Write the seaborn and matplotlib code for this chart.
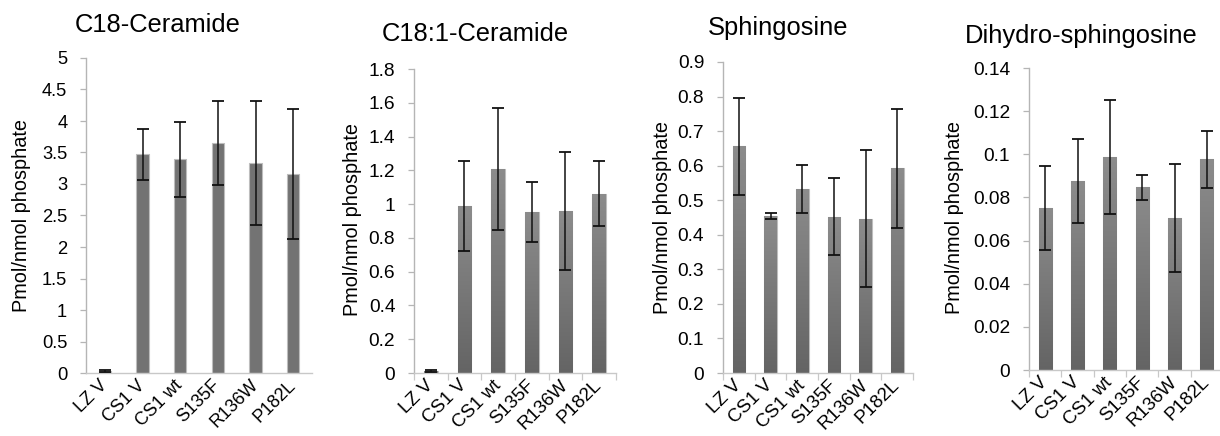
import numpy as np
import pandas as pd
import matplotlib
matplotlib.use("Agg")
import matplotlib.pyplot as plt
from matplotlib.colors import LinearSegmentedColormap
from matplotlib.ticker import FuncFormatter, FixedLocator
import seaborn as sns

sns.set_style("white")
plt.rcParams['font.family'] = ['Liberation Sans', 'DejaVu Sans']
plt.rcParams['text.color'] = 'black'
plt.rcParams['xtick.labelcolor'] = 'black'
plt.rcParams['ytick.labelcolor'] = 'black'

categories = ["LZ V", "CS1 V", "CS1 wt", "S135F", "R136W", "P182L"]

titles = ["C18-Ceramide", "C18:1-Ceramide", "Sphingosine", "Dihydro-sphingosine"]

c18_mean = [0.03, 3.47, 3.39, 3.65, 3.33, 3.16]
c18_err = [0.01, 0.40, 0.60, 0.67, 0.98, 1.03]

c181_mean = [0.012, 0.989, 1.208, 0.953, 0.959, 1.062]
c181_err = [0.006, 0.267, 0.360, 0.180, 0.347, 0.194]

sph_mean = [0.656, 0.455, 0.532, 0.452, 0.447, 0.592]
sph_err = [0.140, 0.008, 0.070, 0.111, 0.197, 0.173]

dhs_mean = [0.0751, 0.0875, 0.0988, 0.0848, 0.0705, 0.0977]
dhs_err = [0.0197, 0.0194, 0.0264, 0.0058, 0.0250, 0.0133]

ymaxes = [5, 1.8, 0.9, 0.14]
ysteps = [0.5, 0.2, 0.1, 0.02]

W, H = 1220, 436
fig = plt.figure(figsize=(W / 100, H / 100), dpi=100)

# axes rectangles in pixels: left, right, top, bottom
rects_px = [(86, 312, 58, 373), (414, 616, 69, 373), (723, 913, 62, 373), (1029, 1223, 68, 370)]
title_px = [(158, 32), (475, 41), (778, 35), (1081, 43)]
ylabel_px = [(22, 216), (352, 220), (662, 218), (955, 218)]
bar_widths = [0.32, 0.4, 0.4, 0.41]
tick_sizes = [13.2, 13.8, 13.8, 13.8]
xtick_sizes = [13, 13.5, 13.5, 13.5]

means = [c18_mean, c181_mean, sph_mean, dhs_mean]
errs = [c18_err, c181_err, sph_err, dhs_err]

spine_col = "#b5b5b5"
grad = LinearSegmentedColormap.from_list("g", ["#646464", "#8c8c8c"])

for i in range(4):
    l, r, t, b = rects_px[i]
    ax = fig.add_axes([l / W, 1 - b / H, (r - l) / W, (b - t) / H])
    df = pd.DataFrame({"cat": categories, "val": means[i]})
    sns.barplot(data=df, x="cat", y="val", ax=ax, color="#737373",
                width=bar_widths[i], errorbar=None, saturation=1,
                edgecolor="#bdbdbd", linewidth=0.8)
    ax.set_ylim(0, ymaxes[i])
    ax.set_xlim(-0.5, len(categories) - 0.5)

    if i > 0:
        for p in ax.patches:
            bb = p.get_bbox()
            im = ax.imshow(np.linspace(1, 0, 256).reshape(-1, 1), cmap=grad,
                           extent=[bb.x0, bb.x1, bb.y0, bb.y1], aspect="auto",
                           zorder=p.get_zorder() + 0.1, interpolation="bilinear")
            im.set_clip_path(p)
        ax.set_ylim(0, ymaxes[i])
        ax.set_xlim(-0.5, len(categories) - 0.5)
        ax.set_aspect("auto")

    centers = [p.get_x() + p.get_width() / 2 for p in ax.patches]
    ax.errorbar(centers, means[i], yerr=errs[i], fmt="none", ecolor="#111111",
                elinewidth=1.1, capsize=4.5, capthick=1.3, zorder=5)

    nt = int(round(ymaxes[i] / ysteps[i]))
    ax.yaxis.set_major_locator(FixedLocator([k * ysteps[i] for k in range(nt + 1)]))
    ax.yaxis.set_major_formatter(FuncFormatter(lambda v, pos: f"{round(v, 4):g}"))

    for s in ["top", "right"]:
        ax.spines[s].set_visible(False)
    for s in ["left", "bottom"]:
        ax.spines[s].set_color(spine_col if s == "left" else "#c8c8c8")
        ax.spines[s].set_linewidth(1.0)

    ax.tick_params(axis="y", which="major", left=True, length=4, width=0.9,
                   color=spine_col, labelsize=tick_sizes[i], pad=9.5, labelcolor="black")
    ax.tick_params(axis="x", which="major", bottom=False, length=0,
                   labelsize=xtick_sizes[i], pad=7, labelcolor="black")
    if i > 0:
        ax.set_xticks([k - 0.5 for k in range(len(categories) + 1)], minor=True)
        ax.tick_params(axis="x", which="minor", bottom=True, length=5, width=0.9,
                       color="#c8c8c8")
    for lab in ax.get_xticklabels():
        lab.set_rotation(45)
        lab.set_ha("right")
        lab.set_va("center")
        lab.set_rotation_mode("anchor")

    ax.set_xlabel("")
    ax.set_ylabel("")
    ax.grid(False)

    tx, ty = title_px[i]
    fig.text(tx / W, 1 - ty / H, titles[i], ha="center", va="baseline",
             fontsize=18.4, color="black")
    lx, ly = ylabel_px[i]
    fig.text(lx / W, 1 - ly / H, "Pmol/nmol phosphate", rotation=90,
             ha="center", va="center", fontsize=14.3, color="black")

fig.savefig("out.png", dpi=100)
